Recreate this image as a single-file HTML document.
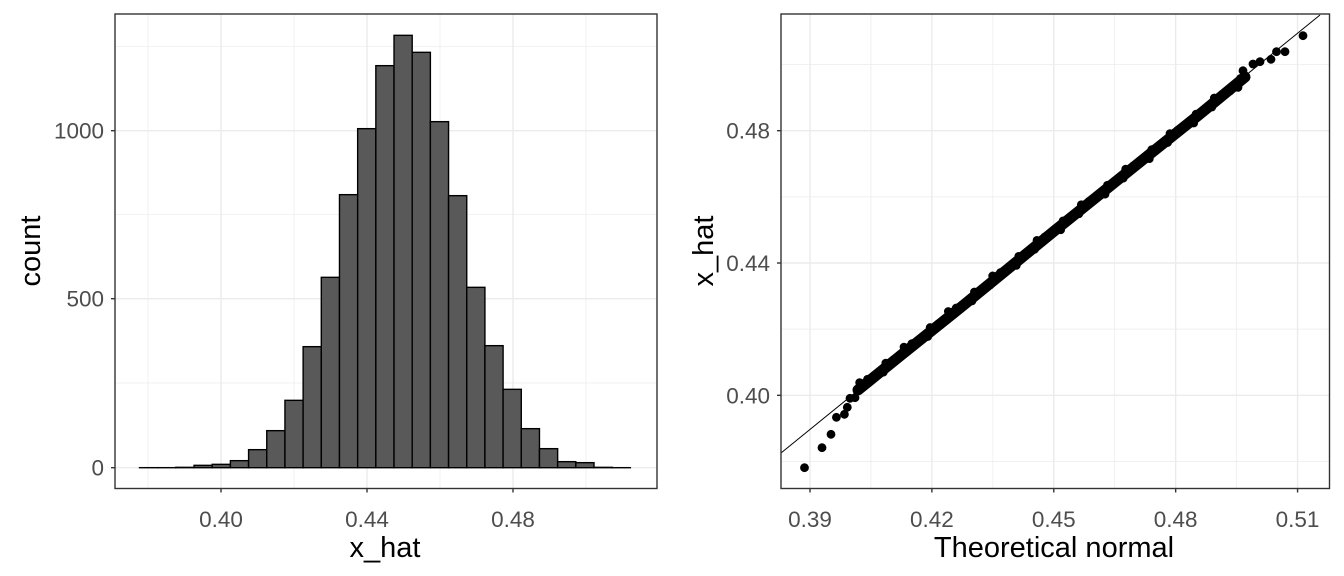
<!DOCTYPE html>
<html><head><meta charset="utf-8"><style>
html,body{margin:0;padding:0;background:#fff;}
svg{display:block;font-family:"Liberation Sans",Arial,sans-serif;}
.tl{font-size:22.5px;fill:#4d4d4d;}
.at{font-size:29px;fill:#000;}
</style></head><body>
<svg id="s" width="1344" height="576" viewBox="0 0 1344 576" xmlns="http://www.w3.org/2000/svg"></svg>
<script>
const s=document.getElementById('s');let h='';
function L(x1,y1,x2,y2,c,w){h+=`<line x1="${x1}" y1="${y1}" x2="${x2}" y2="${y2}" stroke="${c}" stroke-width="${w}"/>`;}
function T(x,y,t,cls,anc,rot){h+=`<text x="${x}" y="${y}" class="${cls}" text-anchor="${anc}"${rot?` transform="rotate(-90 ${x} ${y})"`:''}>${t}</text>`;}
const lx0=115,lx1=657,ty=14,by=488.5;
const X=v=>367+(v-0.44)*3650;
[0.38,0.42,0.46,0.50].forEach(v=>L(X(v),ty,X(v),by,'#ebebeb',0.7));
[383,214.7,46.7].forEach(y=>L(lx0,y,lx1,y,'#ebebeb',0.7));
[0.40,0.44,0.48].forEach(v=>L(X(v),ty,X(v),by,'#ebebeb',1.4));
[467.7,298.7,130.7].forEach(y=>L(lx0,y,lx1,y,'#ebebeb',1.4));
const tops=[1403,1403,1402,1396,1393,1382,1349,1292,1201,1040,832,584,386,197,106,157,365,587,862,1037,1168,1286,1346,1385,1388,1402,1403];
const bw=18.18;
tops.forEach((t,i)=>{const x=139.5+i*bw,y=t/3;h+=`<rect x="${x}" y="${y}" width="${bw}" height="${Math.max(467.7-y,0.01)}" fill="#595959" stroke="#000" stroke-width="1.4"/>`;});
h+=`<rect x="${lx0}" y="${ty}" width="${lx1-lx0}" height="${by-ty}" fill="none" stroke="#333" stroke-width="1.4"/>`;
[[467.7,'0'],[298.7,'500'],[130.7,'1000']].forEach(([y,t])=>{L(lx0-4,y,lx0,y,'#333',1.4);T(104,y+8,t,'tl','end');});
[[0.40,'0.40'],[0.44,'0.44'],[0.48,'0.48']].forEach(([v,t])=>{L(X(v),by,X(v),by+4,'#333',1.4);T(X(v),527,t,'tl','middle');});
T(385,557,'x_hat','at','middle');
T(40,251,'count','at','middle',true);
const rx0=781,rx1=1329.5;
const RX=v=>810+(v-0.39)*4063, RY=v=>263-(v-0.44)*3308;
[0.405,0.435,0.465,0.495].forEach(v=>L(RX(v),ty,RX(v),by,'#ebebeb',0.7));
[0.38,0.42,0.46,0.50].forEach(v=>L(rx0,RY(v),rx1,RY(v),'#ebebeb',0.7));
[0.39,0.42,0.45,0.48,0.51].forEach(v=>L(RX(v),ty,RX(v),by,'#ebebeb',1.4));
[0.40,0.44,0.48].forEach(v=>L(rx0,RY(v),rx1,RY(v),'#ebebeb',1.4));
h+=`<polyline points="858,390 900,356 960,308 1053,232 1140,162 1200,114 1245,77" fill="none" stroke="#000" stroke-width="11" stroke-linecap="round" stroke-linejoin="round"/>`;
for(let i=0;i<=60;i++){const x=862+i*(380/60);const y=385-(x-862)*0.8026;const j=((i*37)%7-3)*0.8;h+=`<circle cx="${x+j}" cy="${y+j}" r="4.3" fill="#000"/>`;}
[[804.5,467.7],[822,447.7],[831,434.3],[836.4,417.3],[844.4,414.3],[847.3,407.3],[850,398.3],[855,397.7],[862.6,385],[1303,35.7],[1285,51.7],[1276.5,51.7],[1271,59.3],[1260,61.7],[1253,64],[1243,70.7],[1242,80]].forEach(([x,y])=>h+=`<circle cx="${x}" cy="${y}" r="4.4" fill="#000"/>`);
L(781,453,1320,15,'#000',1);
h+=`<rect x="${rx0}" y="${ty}" width="${rx1-rx0}" height="${by-ty}" fill="none" stroke="#333" stroke-width="1.4"/>`;
[[0.40,'0.40'],[0.44,'0.44'],[0.48,'0.48']].forEach(([v,t])=>{L(rx0-4,RY(v),rx0,RY(v),'#333',1.4);T(770,RY(v)+8,t,'tl','end');});
[[0.39,'0.39'],[0.42,'0.42'],[0.45,'0.45'],[0.48,'0.48'],[0.51,'0.51']].forEach(([v,t])=>{L(RX(v),by,RX(v),by+4,'#333',1.4);T(RX(v),527,t,'tl','middle');});
T(1054,557,'Theoretical normal','at','middle');
T(713,251,'x_hat','at','middle',true);
s.innerHTML=h;
</script>
</body></html>
